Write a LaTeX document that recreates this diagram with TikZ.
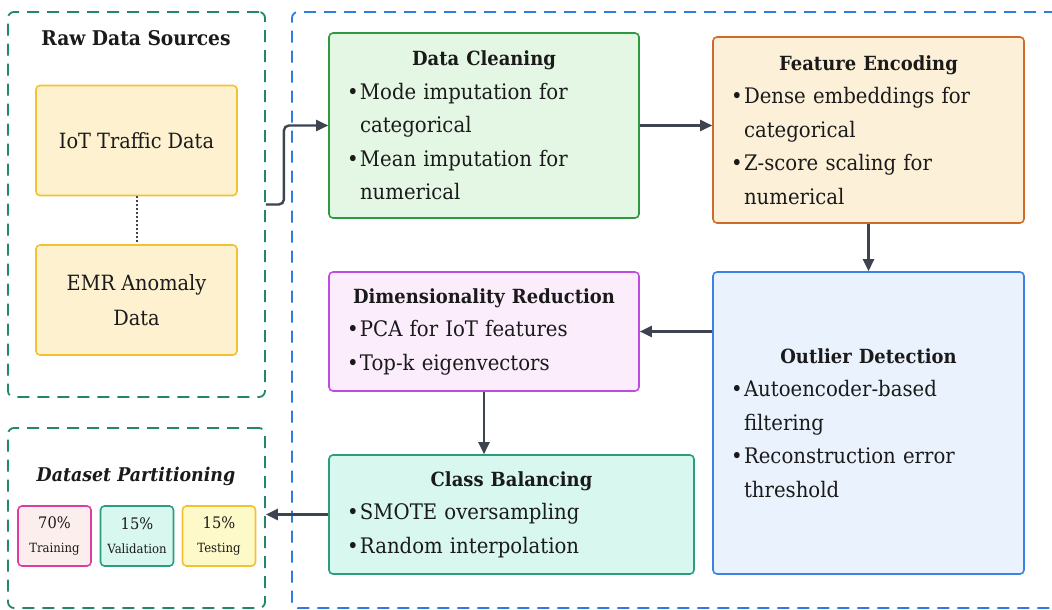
\documentclass[tikz,border=0pt]{standalone}
\usepackage{fontspec}
\setmainfont{DejaVu Serif}[FakeStretch=0.92]
\usetikzlibrary{arrows.meta}
\definecolor{grpG}{HTML}{23866C}
\definecolor{grpB}{HTML}{2F7DE1}
\definecolor{dcB}{HTML}{2E9A3E}\definecolor{dcF}{HTML}{E4F7E4}
\definecolor{feB}{HTML}{D06A2A}\definecolor{feF}{HTML}{FDF0D8}
\definecolor{odB}{HTML}{3B82E6}\definecolor{odF}{HTML}{EAF2FD}
\definecolor{drB}{HTML}{C04BE0}\definecolor{drF}{HTML}{FCEDFC}
\definecolor{cbB}{HTML}{2A9D7E}\definecolor{cbF}{HTML}{D8F7EF}
\definecolor{ylB}{HTML}{F2C230}\definecolor{ylF}{HTML}{FDF1CF}
\definecolor{trB}{HTML}{E03CA0}\definecolor{trF}{HTML}{FDEEEE}
\definecolor{teF}{HTML}{FDF9C8}
\definecolor{arrowc}{HTML}{3D4450}
\definecolor{txt}{HTML}{1A1A1A}
\newcommand\mybul{\makebox[13pt][l]{\textbullet}}
\newcommand\myind{\hspace*{13pt}}
\newcommand\mytitle[1]{{\centering\fontsize{19.5}{33.5}\selectfont\bfseries #1\par}}
\begin{document}
\begin{tikzpicture}[x=1pt,y=-1pt,
  grp/.style={draw, dash pattern=on 12pt off 8pt, line width=1.8pt, rounded corners=6pt, inner sep=0pt},
  box/.style={draw, line width=1.6pt, rounded corners=4pt, inner xsep=18pt, inner ysep=0pt, align=left, text=txt, font=\fontsize{21.4}{33.5}\selectfont},
  src/.style={draw=ylB, fill=ylF, line width=1.6pt, rounded corners=4pt, minimum width=201pt, minimum height=110pt, align=center, text=txt, font=\fontsize{21}{35}\selectfont},
  split/.style={draw, line width=1.6pt, rounded corners=4pt, minimum width=73pt, minimum height=60pt, align=center, inner sep=0pt, text=txt, font=\fontsize{12.7}{24}\selectfont},
  arr/.style={draw=arrowc, line width=2.4pt, -{Triangle[length=12pt,width=11pt]}}
]
\useasboundingbox (0,0) rectangle (1052,610);
\fill[white] (0,0) rectangle (1052,610);

% groups
\node[grp, draw=grpG, minimum width=257pt, minimum height=385pt] (raw) at (136.5,204.5) {};
\node[grp, draw=grpG, minimum width=257pt, minimum height=180pt] (part) at (136.5,518) {};
\node[grp, draw=grpB, minimum width=770pt, minimum height=596pt] (pipe) at (677,310) {};

% group titles
\node[font=\fontsize{20.3}{22}\selectfont\bfseries, text=txt] (rawt) at (136,38) {Raw Data Sources};
\node[font=\fontsize{18.9}{22}\selectfont\bfseries\itshape, text=txt] (partt) at (136,476) {Dataset Partitioning};

% sources
\node[src] (iot) at (136.5,140.5) {IoT Traffic Data};
\node[src] (emr) at (136.5,300) {EMR Anomaly\\Data};
\draw[arrowc, line width=2pt, dotted] (iot.south) -- (emr.north);

% splits
\node[split, draw=trB, fill=trF] (tr) at (54.5,536) {{\fontsize{15.9}{24}\selectfont 70\%}\\Training};
\node[split, draw=cbB, fill=cbF] (va) at (137,536) {{\fontsize{15.9}{24}\selectfont 15\%}\\Validation};
\node[split, draw=ylB, fill=teF] (te) at (219,536) {{\fontsize{15.9}{24}\selectfont 15\%}\\Testing};

% pipeline boxes
\node[box, draw=dcB, fill=dcF, text width=274pt, minimum height=185pt] (dc) at (484,125.5) {%
\mytitle{Data Cleaning}
\mybul Mode imputation for\\
\myind categorical\\
\mybul Mean imputation for\\
\myind numerical};

\node[box, draw=feB, fill=feF, text width=275pt, minimum height=186pt] (fe) at (868.5,130) {%
\mytitle{Feature Encoding}
\mybul Dense embeddings for\\
\myind categorical\\
\mybul Z-score scaling for\\
\myind numerical};

\node[box, draw=odB, fill=odF, text width=275pt, minimum height=302pt] (od) at (868.5,423) {%
\mytitle{Outlier Detection}
\mybul Autoencoder-based\\
\myind filtering\\
\mybul Reconstruction error\\
\myind threshold};

\node[box, draw=drB, fill=drF, text width=274pt, minimum height=119pt] (dr) at (484,331.5) {%
\mytitle{Dimensionality Reduction}
\mybul PCA for IoT features\\
\mybul Top-k eigenvectors};

\node[box, draw=cbB, fill=cbF, text width=329pt, minimum height=119pt] (cb) at (511.5,514.5) {%
\mytitle{Class Balancing}
\mybul SMOTE oversampling\\
\mybul Random interpolation};

% connectors
\draw[arr, rounded corners=5pt] (raw.east) -- ++(18,0) |- (dc.west);
\draw[arr] (dc.east) -- (dc.east -| fe.west);
\draw[arr] (fe.south) -- (od.north);
\draw[arr] (od.west |- dr.east) -- (dr.east);
\draw[arr] (dr.south) -- (dr.south |- cb.north);
\draw[arr] (cb.west) -- (cb.west -| part.east);
\end{tikzpicture}
\end{document}
